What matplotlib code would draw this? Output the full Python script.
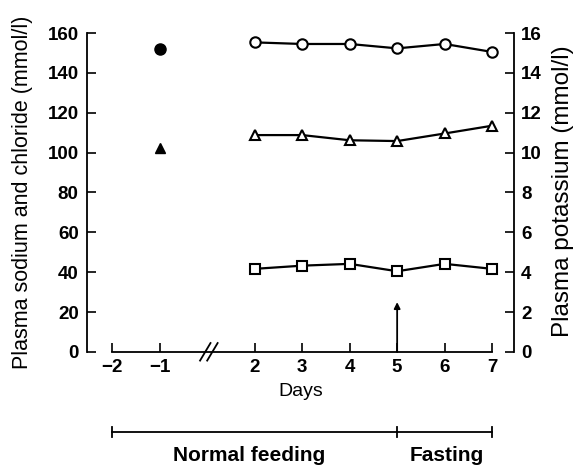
import numpy as np
import matplotlib
matplotlib.use("Agg")
import matplotlib.pyplot as plt
import matplotlib.transforms as mtransforms


# ======================
# Data
# ======================

days = [2, 3, 4, 5, 6, 7]
sodium = [155.3, 154.5, 154.5, 152.3, 154.5, 150.5]
chloride = [108.8, 108.8, 106.2, 105.8, 109.6, 113.5]
potassium = [4.17, 4.33, 4.42, 4.05, 4.42, 4.17]

baseline_day = [-1]
baseline_sodium = [151.8]
baseline_chloride = [102.2]

tick_days = [-2, -1, 2, 3, 4, 5, 6, 7]
fasting_start = 5
arrow_top = 25
period_edges = [-2, 5, 7]
period_names = ["Normal feeding", "Fasting"]


def pos(d):
    # broken axis: days -1 and 2 sit two units apart
    d = np.asarray(d, dtype=float)
    return np.where(d <= -1, d, d - 1)


# ======================
# Figure
# ======================

plt.rcParams["font.family"] = ["Liberation Sans", "DejaVu Sans"]

fig = plt.figure(figsize=(5.79, 4.67), dpi=100)
ax = fig.add_axes([0.1503, 0.2463, 0.7374, 0.683])
ax2 = ax.twinx()

lw = 1.6
ms = 7.5

ax.plot(pos(days), sodium, color="black", lw=lw, marker="o", ms=ms,
        mfc="white", mec="black", mew=1.5, zorder=3)
ax.plot(pos(days), chloride, color="black", lw=lw, marker="^", ms=ms,
        mfc="white", mec="black", mew=1.5, zorder=3)
ax2.plot(pos(days), potassium, color="black", lw=lw, marker="s", ms=ms - 0.5,
         mfc="white", mec="black", mew=1.5, zorder=3)

ax.plot(pos(baseline_day), baseline_sodium, "o", color="black", ms=ms + 0.5)
ax.plot(pos(baseline_day), baseline_chloride, "^", color="black", ms=ms - 0.5)

ax.set_xlim(-2.53, 6.46)
ax.set_ylim(0, 160)
ax2.set_ylim(0, 16)

ax.set_xticks(pos(tick_days))
ax.set_xticklabels([str(d).replace("-", "\u2212") for d in tick_days])
ax.set_yticks(range(0, 161, 20))
ax2.set_yticks(range(0, 17, 2))

for a in (ax, ax2):
    a.spines["top"].set_visible(False)
    for s in a.spines.values():
        s.set_linewidth(1.3)
ax.spines["right"].set_visible(False)
ax2.spines["left"].set_visible(False)
ax2.spines["bottom"].set_visible(False)
ax.spines["bottom"].set_bounds(pos(-2), pos(7))

tick_font = dict(labelsize=13.5)
ax.tick_params(axis="both", direction="in", length=6.5, width=1.2, **tick_font)
ax.tick_params(axis="x", pad=5)
ax.tick_params(axis="y", pad=6)
ax2.tick_params(axis="y", direction="in", length=6.5, width=1.2, pad=5, **tick_font)
for lab in ax.get_xticklabels() + ax.get_yticklabels() + ax2.get_yticklabels():
    lab.set_fontweight("bold")

ax.set_ylabel("Plasma sodium and chloride (mmol/l)", fontsize=15.5)
ax.yaxis.set_label_coords(-0.127, 0.5)
ax2.set_ylabel("Plasma potassium (mmol/l)", fontsize=17.5)
ax2.yaxis.set_label_coords(1.088, 0.505)

ax.set_xlabel("Days", fontsize=14)
ax.xaxis.set_label_coords(0.5, -0.098)

# break marks on the x axis
trans = mtransforms.blended_transform_factory(ax.transData, ax.transAxes)
for x0 in (-0.15, 0.0):
    ax.plot([x0, x0 + 0.22], [-0.027, 0.028], color="black", lw=1.3,
            transform=trans, clip_on=False)

# start of fasting
ax.annotate("", xy=(pos(fasting_start), arrow_top), xytext=(pos(fasting_start), 0),
            arrowprops=dict(arrowstyle="-|>", color="black", lw=1.3,
                            mutation_scale=9, shrinkA=0, shrinkB=0))

# period bracket below the axis
yb = -0.251
edges = pos(period_edges)
ax.plot([edges[0], edges[-1]], [yb, yb], color="black", lw=1.3,
        transform=trans, clip_on=False)
for e in edges:
    ax.plot([e, e], [yb - 0.016, yb + 0.016], color="black", lw=1.3,
            transform=trans, clip_on=False)
label_nudge = [-0.12, 0.05]
for i, name in enumerate(period_names):
    xc = (edges[i] + edges[i + 1]) / 2 + label_nudge[i]
    ax.text(xc, -0.323, name, transform=trans, ha="center", va="center",
            fontsize=15, fontweight="bold")

plt.savefig("out.png", dpi=100)
